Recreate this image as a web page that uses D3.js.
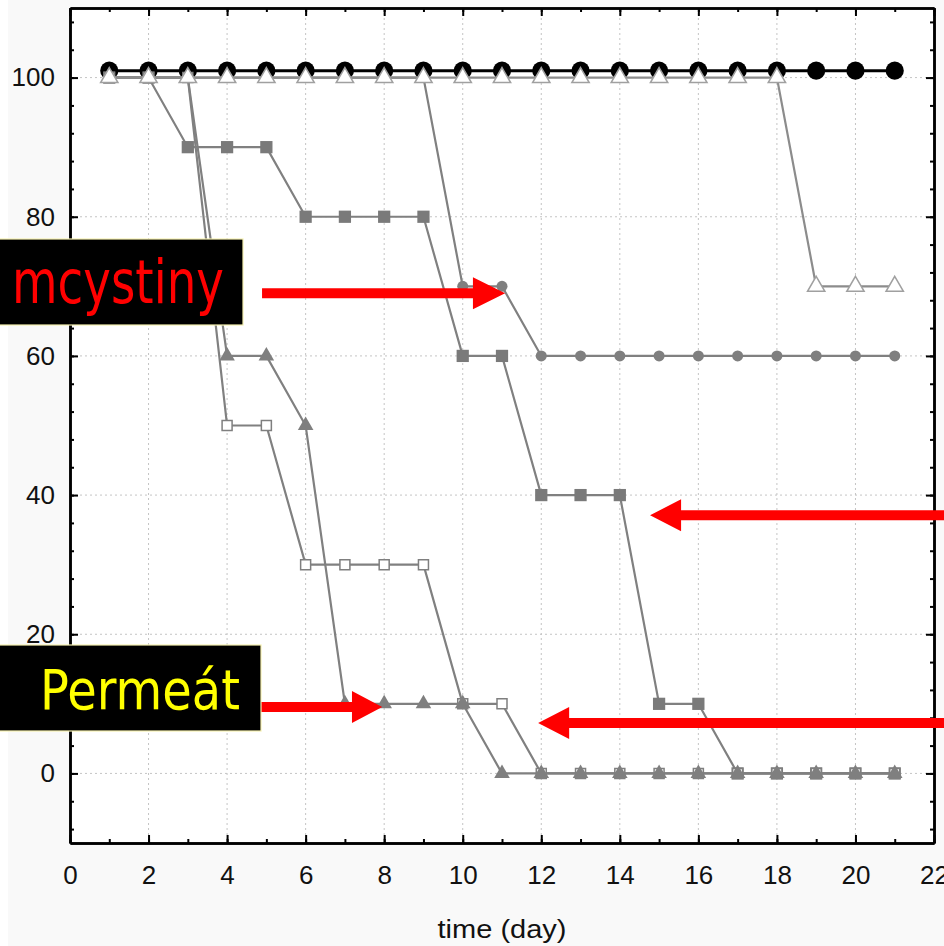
<!DOCTYPE html>
<html>
<head>
<meta charset="utf-8">
<script src="https://cdn.jsdelivr.net/npm/d3@7"></script>
<style>
  html, body { margin: 0; padding: 0; background: #f9f9f9; }
  .tick text { font-family: "Liberation Sans", Arial, sans-serif; font-size: 26px; fill: #111; }
</style>
</head>
<body>
<div id="chart"></div>
<script>
var days = [1, 2, 3, 4, 5, 6, 7, 8, 9, 10, 11, 12, 13, 14, 15, 16, 17, 18, 19, 20, 21];

var blackCircles  = [101, 101, 101, 101, 101, 101, 101, 101, 101, 101, 101, 101, 101, 101, 101, 101, 101, 101, 101, 101, 101];
var openTriangles = [100, 100, 100, 100, 100, 100, 100, 100, 100, 100, 100, 100, 100, 100, 100, 100, 100, 100, 70, 70, 70];
var greyCircles   = [100, 100, 100, 100, 100, 100, 100, 100, 100, 70, 70, 60, 60, 60, 60, 60, 60, 60, 60, 60, 60];
var greySquares   = [100, 100, 90, 90, 90, 80, 80, 80, 80, 60, 60, 40, 40, 40, 10, 10, 0, 0, 0, 0, 0];
var greyTriangles = [100, 100, 100, 60, 60, 50, 10, 10, 10, 10, 0, 0, 0, 0, 0, 0, 0, 0, 0, 0, 0];
var openSquares   = [100, 100, 100, 50, 50, 30, 30, 30, 30, 10, 10, 0, 0, 0, 0, 0, 0, 0, 0, 0, 0];

var xTicks = [0, 2, 4, 6, 8, 10, 12, 14, 16, 18, 20, 22];
var yTicks = [0, 20, 40, 60, 80, 100];

var W = 944, H = 946;
var margin = { top: 8, right: 10, bottom: 103, left: 70 };
var width = W - margin.left - margin.right,
    height = H - margin.top - margin.bottom;

var svg = d3.select("#chart").append("svg")
    .attr("width", W)
    .attr("height", H);

// white strip at the very left, plot area white
svg.append("rect").attr("x", 0).attr("y", 0).attr("width", 8).attr("height", H).attr("fill", "#fff");

var g = svg.append("g")
    .attr("transform", "translate(" + margin.left + "," + margin.top + ")");

g.append("rect").attr("width", width).attr("height", height).attr("fill", "#fff");

var x = d3.scaleLinear().domain([0, 22]).range([0, width]);
var y = d3.scaleLinear().domain([-10, 110]).range([height, 0]);

// dotted grid
g.append("g").selectAll("line")
    .data(xTicks.filter(function (d) { return d > 0 && d < 22; }))
    .enter().append("line")
    .attr("x1", function (d) { return x(d); })
    .attr("x2", function (d) { return x(d); })
    .attr("y1", 0).attr("y2", height)
    .attr("stroke", "#c4c4c4").attr("stroke-width", 1).attr("stroke-dasharray", "2,3");

g.append("g").selectAll("line")
    .data(yTicks)
    .enter().append("line")
    .attr("x1", 0).attr("x2", width)
    .attr("y1", function (d) { return y(d); })
    .attr("y2", function (d) { return y(d); })
    .attr("stroke", "#c4c4c4").attr("stroke-width", 1).attr("stroke-dasharray", "2,3");

// series
var series = [
  { values: blackCircles,  line: "#000",    lw: 3,   symbol: d3.symbolCircle,   size: 260, fill: "#000",    stroke: "none" },
  { values: greyCircles,   line: "#808080", lw: 2.2, symbol: d3.symbolCircle,   size: 95,  fill: "#7f7f7f", stroke: "none" },
  { values: greySquares,   line: "#808080", lw: 2.2, symbol: d3.symbolSquare,   size: 150, fill: "#7a7a7a", stroke: "none" },
  { values: openSquares,   line: "#808080", lw: 2.2, symbol: d3.symbolSquare,   size: 100, fill: "#fff",    stroke: "#7f7f7f" },
  { values: greyTriangles, line: "#808080", lw: 2.2, symbol: d3.symbolTriangle, size: 105, fill: "#7f7f7f", stroke: "none" },
  { values: openTriangles, line: "#8c8c8c", lw: 2.2, symbol: d3.symbolTriangle, size: 130, fill: "#fff",    stroke: "#a0a0a0" }
];

var line = d3.line()
    .x(function (d) { return x(d[0]); })
    .y(function (d) { return y(d[1]); });

series.forEach(function (s) {
  var pts = days.map(function (d, i) { return [d, s.values[i]]; });
  var sg = g.append("g");
  sg.append("path")
      .attr("d", line(pts))
      .attr("fill", "none")
      .attr("stroke", s.line)
      .attr("stroke-width", s.lw);
  sg.selectAll("path.mark")
      .data(pts)
      .enter().append("path")
      .attr("class", "mark")
      .attr("transform", function (d) { return "translate(" + x(d[0]) + "," + y(d[1]) + ")"; })
      .attr("d", d3.symbol().type(s.symbol).size(s.size))
      .attr("fill", s.fill)
      .attr("stroke", s.stroke)
      .attr("stroke-width", 1.5);
});

// axes, ticks inward
function styleAxis(sel) {
  sel.select(".domain").attr("stroke", "#000").attr("stroke-width", 2.5);
  sel.selectAll(".tick line").attr("stroke", "#000").attr("stroke-width", 2);
}

var xMinor = d3.range(0, 23, 1), yMinor = d3.range(-8, 110, 4);

g.append("g").attr("transform", "translate(0," + height + ")")
    .call(d3.axisBottom(x).tickValues(xMinor).tickSize(-4).tickSizeOuter(0).tickFormat(""))
    .call(styleAxis);
g.append("g").attr("transform", "translate(0," + height + ")")
    .call(d3.axisBottom(x).tickValues(xTicks).tickSize(-8).tickSizeOuter(0).tickPadding(23))
    .call(styleAxis);
g.append("g")
    .call(d3.axisTop(x).tickValues(xMinor).tickSize(-4).tickSizeOuter(0).tickFormat(""))
    .call(styleAxis);
g.append("g")
    .call(d3.axisTop(x).tickValues(xTicks).tickSize(-8).tickSizeOuter(0).tickFormat(""))
    .call(styleAxis);

g.append("g")
    .call(d3.axisLeft(y).tickValues(yMinor).tickSize(-4).tickSizeOuter(0).tickFormat(""))
    .call(styleAxis);
g.append("g")
    .call(d3.axisLeft(y).tickValues(yTicks).tickSize(-8).tickSizeOuter(0).tickPadding(15))
    .call(styleAxis);
g.append("g").attr("transform", "translate(" + width + ",0)")
    .call(d3.axisRight(y).tickValues(yMinor).tickSize(-4).tickSizeOuter(0).tickFormat(""))
    .call(styleAxis);
g.append("g").attr("transform", "translate(" + width + ",0)")
    .call(d3.axisRight(y).tickValues(yTicks).tickSize(-8).tickSizeOuter(0).tickFormat(""))
    .call(styleAxis);

g.selectAll(".tick text").attr("fill", "#111");

svg.append("text")
    .attr("x", 502).attr("y", 938)
    .attr("text-anchor", "middle")
    .attr("textLength", 129).attr("lengthAdjust", "spacingAndGlyphs")
    .style("font-family", "'Liberation Sans', Arial, sans-serif")
    .style("font-size", "26px")
    .attr("fill", "#111")
    .text("time (day)");

// red arrows in data units
var arrows = [
  { tail: 4.89,  tip: 11.08, head: 10.26, v: 69.0 },
  { tail: 4.86,  tip: 7.95,  head: 7.18,  v: 9.55 },
  { tail: 22.4,  tip: 14.77, head: 15.56, v: 37.1 },
  { tail: 22.4,  tip: 11.92, head: 12.71, v: 7.25 }
];

arrows.forEach(function (a) {
  var t = x(a.tail) + margin.left, p = x(a.tip) + margin.left, h = x(a.head) + margin.left,
      cy = y(a.v) + margin.top, sw = 5, hw = 16;
  var pts = [[t, cy - sw], [h, cy - sw], [h, cy - hw], [p, cy], [h, cy + hw], [h, cy + sw], [t, cy + sw]];
  svg.append("path")
      .attr("d", "M" + pts.join("L") + "Z")
      .attr("fill", "#ff0000");
});

// label boxes
var boxes = [
  { x: 0, y: 239, w: 243, h: 86, text: "mcystiny", color: "#ff0000", tx: 12, ty: 303, size: 60, len: 212 },
  { x: 0, y: 645, w: 261, h: 86, text: "Permeát",  color: "#ffff00", tx: 40, ty: 709, size: 55, len: 200 }
];

boxes.forEach(function (b) {
  svg.append("rect")
      .attr("x", b.x - 1).attr("y", b.y).attr("width", b.w + 1).attr("height", b.h)
      .attr("fill", "#000").attr("stroke", "#f5f0b0").attr("stroke-width", 1.2);
  svg.append("text")
      .attr("x", b.tx).attr("y", b.ty)
      .attr("textLength", b.len).attr("lengthAdjust", "spacingAndGlyphs")
      .style("font-family", "'DejaVu Sans', Verdana, sans-serif")
      .style("font-size", b.size + "px")
      .attr("fill", b.color)
      .text(b.text);
});
</script>
</body>
</html>
